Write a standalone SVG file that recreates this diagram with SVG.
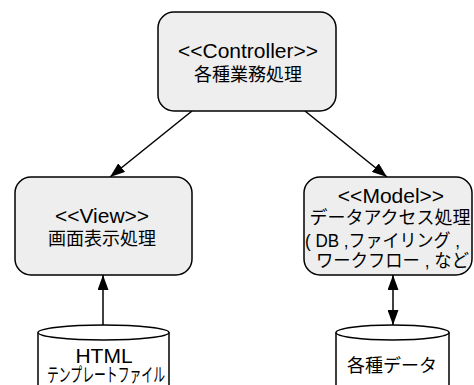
<svg xmlns="http://www.w3.org/2000/svg" width="474" height="385" viewBox="0 0 474 385">
<style>
.box{fill:#eeeeee;stroke:#000;stroke-width:1.5}
.cyl{fill:#fff;stroke:#000;stroke-width:1.5}
.t{font-family:"Liberation Sans","Noto Sans CJK JP",sans-serif;font-size:18px;fill:#000;text-anchor:middle}
.l{font-size:21px}
.s{text-anchor:start}
.ln{stroke:#000;stroke-width:1.5;fill:none}
</style>
<defs>
<marker id="ah" viewBox="0 0 15 11" refX="15" refY="5.5" markerWidth="15" markerHeight="11" markerUnits="userSpaceOnUse" orient="auto-start-reverse">
<path d="M0,0 L15,5.5 L0,11 z" fill="#000"/>
</marker>
</defs>
<rect width="474" height="385" fill="#fff"/>
<g id="connectors">
<line class="ln" x1="192" y1="111" x2="110" y2="177" marker-end="url(#ah)"/>
<line class="ln" x1="305" y1="111" x2="387" y2="177" marker-end="url(#ah)"/>
<line class="ln" x1="103" y1="325" x2="103" y2="275" marker-end="url(#ah)"/>
<line class="ln" x1="393" y1="275" x2="393" y2="325" marker-start="url(#ah)" marker-end="url(#ah)"/>
</g>
<g id="controller">
<rect class="box" x="158" y="12" width="178" height="99" rx="16"/>
<text class="t l" x="248" y="58">&lt;&lt;Controller&gt;&gt;</text>
<text class="t" x="248" y="81">各種業務処理</text>
</g>
<g id="view">
<rect class="box" x="15" y="177" width="177" height="98" rx="16"/>
<text class="t l" x="102" y="223">&lt;&lt;View&gt;&gt;</text>
<text class="t" x="102" y="245">画面表示処理</text>
</g>
<g id="model">
<rect class="box" x="304" y="177" width="168" height="98" rx="16"/>
<text class="t l" x="391" y="203">&lt;&lt;Model&gt;&gt;</text>
<text class="t" x="390" y="224">データアクセス処理</text>
<text class="t s" x="305" y="247" textLength="155" lengthAdjust="spacingAndGlyphs" xml:space="preserve">( DB ,ファイリング ,</text>
<text class="t s" x="316" y="267" textLength="153" lengthAdjust="spacingAndGlyphs" xml:space="preserve">ワークフロー , など</text>
</g>
<g id="html">
<path class="cyl" d="M38,332.5 L38,395 L169,395 L169,332.5"/>
<ellipse class="cyl" cx="103.5" cy="332.5" rx="65.5" ry="7.5"/>
<text class="t l" x="104" y="363">HTML</text>
<text class="t" x="106" y="382" style="font-size:19px" textLength="118" lengthAdjust="spacingAndGlyphs">テンプレートファイル</text>
</g>
<g id="data">
<path class="cyl" d="M336,332.5 L336,395 L449,395 L449,332.5"/>
<ellipse class="cyl" cx="392.5" cy="332.5" rx="56.5" ry="7.5"/>
<text class="t" x="392" y="372">各種データ</text>
</g>
</svg>
